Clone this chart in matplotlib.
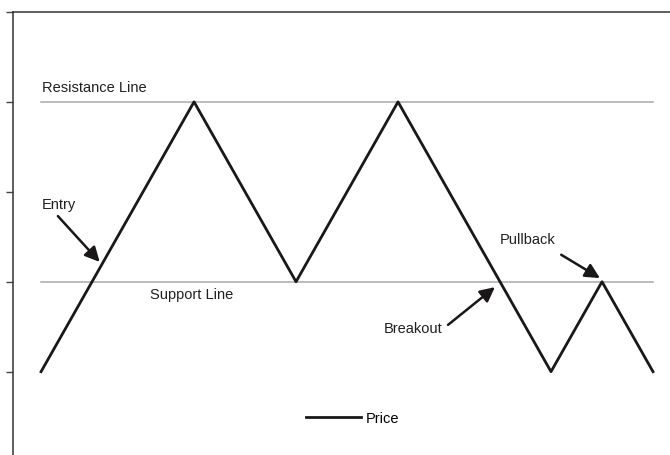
import matplotlib
matplotlib.use("Agg")
import matplotlib.pyplot as plt

plt.rcParams['font.family'] = ['Liberation Sans', 'DejaVu Sans']

# price path (x steps, price level)
price_x = [1, 4, 6, 8, 11, 12, 13]
price_y = [1, 4, 2, 4, 1, 2, 1]
support = 2
resistance = 4
line_x = [1, 13]
yticks = [1, 2, 3, 4, 5]

fig = plt.figure(figsize=(6.7, 4.56), dpi=100)
ax = fig.add_axes([13 / 670, -0.0145, 1 - 13 / 670, 0.9862])

ax.plot(line_x, [resistance, resistance], color="#aaaaaa", lw=1.1)
ax.plot(line_x, [support, support], color="#aaaaaa", lw=1.1)
ax.plot(price_x, price_y, color="#1a1718", lw=2.0, label="Price")

ax.set_xlim(0.45, 1 + 629 / 51)
ax.set_ylim(0, 5)

ax.set_xticks([])
ax.set_yticks(yticks)
ax.set_yticklabels([])
ax.tick_params(axis="y", direction="out", length=5, width=1.0, color="#444444")
for s in ["right", "bottom"]:
    ax.spines[s].set_visible(False)
for s in ["left", "top"]:
    ax.spines[s].set_color("#333333")
    ax.spines[s].set_linewidth(1.1)

fs = 10.5
ax.text(1.02, 4.17, "Resistance Line", fontsize=fs, va="center", ha="left", color="#231f20")
ax.text(3.14, 1.86, "Support Line", fontsize=fs, va="center", ha="left", color="#231f20")

arrow = dict(arrowstyle="-|>", lw=1.8, color="#1a1718", mutation_scale=22, shrinkA=0, shrinkB=0)
ax.text(1.02, 2.86, "Entry", fontsize=fs, va="center", ha="left", color="#231f20")
ax.annotate("", xy=(2.15, 2.22), xytext=(1.33, 2.73), arrowprops=arrow)

ax.text(8.88, 1.49, "Breakout", fontsize=fs, va="center", ha="right", color="#231f20")
ax.annotate("", xy=(9.90, 1.94), xytext=(8.98, 1.52), arrowprops=arrow)

ax.text(10.0, 2.47, "Pullback", fontsize=fs, va="center", ha="left", color="#231f20")
ax.annotate("", xy=(11.96, 2.04), xytext=(11.2, 2.30), arrowprops=arrow)

fig.legend(loc="center", bbox_to_anchor=(0.526, 0.081), frameon=False,
           fontsize=fs, handlelength=3.8, handletextpad=0.3)

fig.savefig("out.png", dpi=100)
